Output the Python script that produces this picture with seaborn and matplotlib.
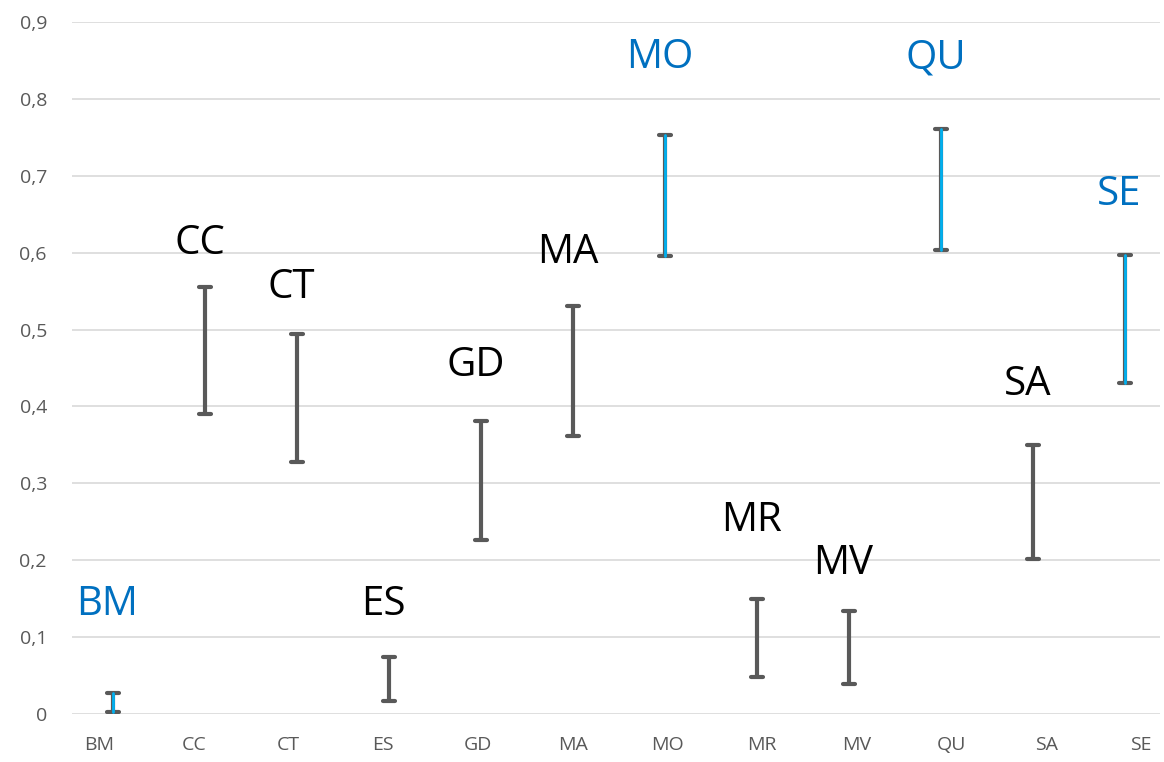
import numpy as np
import pandas as pd
import seaborn as sns
import matplotlib.pyplot as plt

categories = ['BM', 'CC', 'CT', 'ES', 'GD', 'MA', 'MO', 'MR', 'MV', 'QU', 'SA', 'SE']
low_values = [0.003, 0.390, 0.328, 0.017, 0.226, 0.361, 0.596, 0.048, 0.039, 0.603, 0.202, 0.430]
high_values = [0.027, 0.555, 0.494, 0.074, 0.381, 0.531, 0.753, 0.150, 0.134, 0.761, 0.350, 0.597]
highlighted = ['BM', 'MO', 'QU', 'SE']
# height of the category labels written above the bars
label_y = [0.142, 0.611, 0.555, 0.142, 0.453, 0.600, 0.853, 0.251, 0.196, 0.853, 0.428, 0.675]
y_ticks = [0, 0.1, 0.2, 0.3, 0.4, 0.5, 0.6, 0.7, 0.8, 0.9]

GRAY = '#595959'
LIGHT_BLUE = '#00B0F0'
DARK_BLUE = '#0070C0'

df = pd.DataFrame({
    'cat': categories * 2,
    'val': low_values + high_values,
})
df_hl = df[df['cat'].isin(highlighted)]

sns.set_theme(style='white')
plt.rcParams['font.family'] = ['Open Sans', 'DejaVu Sans']

fig = plt.figure(figsize=(11.64, 7.62), dpi=100)
ax = fig.add_axes([72 / 1164, 48 / 762, 1088 / 1164, 692 / 762])

sns.pointplot(data=df, x='cat', y='val', order=categories,
              errorbar=('pi', 100), linestyle='none', marker='',
              color=GRAY, capsize=0.14, err_kws={'linewidth': 3.0}, ax=ax)
sns.pointplot(data=df_hl, x='cat', y='val', order=categories,
              errorbar=('pi', 100), linestyle='none', marker='',
              color=LIGHT_BLUE, capsize=0, err_kws={'linewidth': 2.0}, ax=ax)

for i, (cat, ly) in enumerate(zip(categories, label_y)):
    col = DARK_BLUE if cat in highlighted else 'black'
    ax.text(i - 0.06, ly, cat, ha='center', va='center', fontsize=29, color=col)

ax.set_xlim(-0.446, 11.38)
ax.set_ylim(0, 0.9)
ax.set_yticks(y_ticks)
ax.set_yticklabels(['0'] + [f'{t:.1f}'.replace('.', ',') for t in y_ticks[1:]])
ax.grid(axis='y', color='#d9d9d9', linewidth=1.2)
ax.set_axisbelow(True)
for s in ax.spines.values():
    s.set_visible(False)
ax.tick_params(axis='both', length=0, labelsize=14, labelcolor=GRAY)
ax.tick_params(axis='y', pad=18)
ax.set_xticks([])
ax.set_xlabel('')
ax.set_ylabel('')

# category axis labels sit on a slightly wider spacing than the bars
lab_ax = ax.twiny()
lab_ax.set_xlim(-0.285, 11.2)
lab_ax.set_xticks(range(len(categories)))
lab_ax.set_xticklabels(categories)
lab_ax.xaxis.set_ticks_position('bottom')
lab_ax.xaxis.set_label_position('bottom')
lab_ax.tick_params(axis='x', length=0, labelsize=14, labelcolor=GRAY, pad=16)
for s in lab_ax.spines.values():
    s.set_visible(False)

fig.savefig('out.png', dpi=100)
